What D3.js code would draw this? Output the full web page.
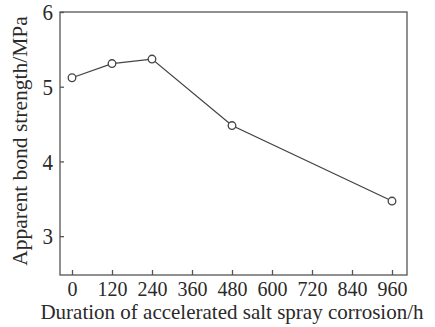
<!DOCTYPE html>
<html>
<head>
<meta charset="utf-8">
<script src="https://d3js.org/d3.v7.min.js"></script>
<style>
  body { margin: 0; background: #fff; }
  text { font-family: 'Liberation Serif', 'DejaVu Serif', serif; fill: #2a2a2a; }
</style>
</head>
<body>
<script>
// data
var hours = [0, 120, 240, 480, 960];
var strength = [5.12, 5.31, 5.37, 4.48, 3.47];
var xTicks = [0, 120, 240, 360, 480, 600, 720, 840, 960];
var yTicks = [3, 4, 5, 6];

var W = 435, H = 327;
var plotL = 60, plotT = 12, plotR = 407, plotB = 275;

var svg = d3.select("body").append("svg")
    .attr("width", W)
    .attr("height", H);

var x = d3.scaleLinear().domain([-36, 1005]).range([plotL, plotR]);
var y = d3.scaleLinear().domain([2.48, 6]).range([plotB, plotT]);

// frame
svg.append("rect")
    .attr("x", plotL).attr("y", plotT)
    .attr("width", plotR - plotL).attr("height", plotB - plotT)
    .attr("fill", "none")
    .attr("stroke", "#555")
    .attr("stroke-width", 1.3);

// x axis, ticks pointing inward
var xAxis = svg.append("g")
    .attr("transform", "translate(0," + plotB + ")")
    .call(d3.axisTop(x).tickValues(xTicks).tickSize(5).tickFormat(d3.format("d")));
xAxis.select(".domain").remove();
xAxis.selectAll(".tick line").attr("stroke", "#555").attr("stroke-width", 1.3);
xAxis.selectAll(".tick text")
    .attr("y", 20.5)
    .attr("dy", 0)
    .attr("textLength", function(d) { return String(d).length * 10; })
    .attr("lengthAdjust", "spacingAndGlyphs")
    .style("font-size", "20.5px")
    .style("font-family", "'Liberation Serif', serif")
    .attr("fill", "#2a2a2a");

// y axis, ticks pointing inward
var yAxis = svg.append("g")
    .attr("transform", "translate(" + plotL + ",0)")
    .call(d3.axisRight(y).tickValues(yTicks).tickSize(4).tickFormat(d3.format("d")));
yAxis.select(".domain").remove();
yAxis.selectAll(".tick line").attr("stroke", "#555").attr("stroke-width", 1.3);
yAxis.selectAll(".tick text")
    .attr("x", -7)
    .attr("dy", "0.34em")
    .attr("text-anchor", "end")
    .attr("textLength", 10.5)
    .attr("lengthAdjust", "spacingAndGlyphs")
    .style("font-size", "23px")
    .style("font-family", "'Liberation Serif', serif")
    .attr("fill", "#2a2a2a");

// line + open markers
var pts = hours.map(function(h, i) { return [h, strength[i]]; });
svg.append("path")
    .datum(pts)
    .attr("fill", "none")
    .attr("stroke", "#444")
    .attr("stroke-width", 1.3)
    .attr("d", d3.line().x(function(d) { return x(d[0]); }).y(function(d) { return y(d[1]); }));

svg.selectAll("circle.pt")
    .data(pts)
    .enter().append("circle")
    .attr("class", "pt")
    .attr("cx", function(d) { return x(d[0]); })
    .attr("cy", function(d) { return y(d[1]); })
    .attr("r", 3.8)
    .attr("fill", "#fff")
    .attr("stroke", "#444")
    .attr("stroke-width", 1.3);

// axis titles
svg.append("text")
    .attr("x", 232).attr("y", 318.5)
    .attr("text-anchor", "middle")
    .style("font-size", "21px")
    .text("Duration of accelerated salt spray corrosion/h");

svg.append("text")
    .attr("transform", "translate(27,141) rotate(-90)")
    .attr("text-anchor", "middle")
    .style("font-size", "21.5px")
    .text("Apparent bond strength/MPa");
</script>
</body>
</html>
